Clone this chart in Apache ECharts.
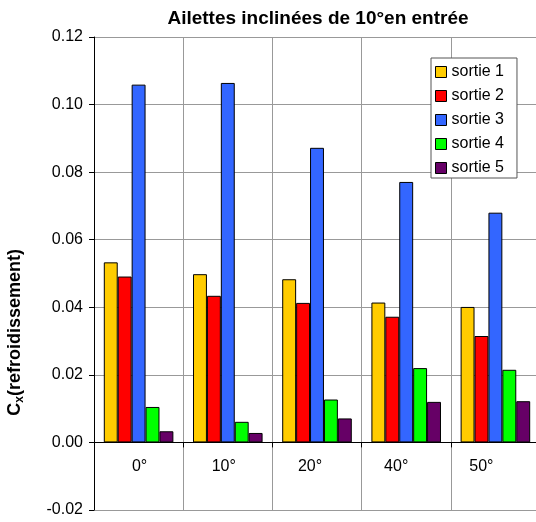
<!DOCTYPE html>
<html><head><meta charset="utf-8">
<script src="https://cdn.jsdelivr.net/npm/echarts@6/dist/echarts.min.js"></script>
<style>html,body{margin:0;padding:0;background:#fff}#c{width:536px;height:522px}</style>
</head><body><div id="c"></div>
<script>
const categories = ['0°','10°','20°','40°','50°'];
const seriesNames = ['sortie 1','sortie 2','sortie 3','sortie 4','sortie 5'];
const sortie1 = [0.0533, 0.0498, 0.0483, 0.0414, 0.0401];
const sortie2 = [0.0491, 0.0434, 0.0413, 0.0372, 0.0315];
const sortie3 = [0.1059, 0.1064, 0.0872, 0.0771, 0.0680];
const sortie4 = [0.0105, 0.0061, 0.0127, 0.0220, 0.0215];
const sortie5 = [0.0033, 0.0028, 0.0071, 0.0120, 0.0122];
const colors = ['#FFCC00','#FF0000','#3366FF','#00FF00','#660066'];
const values = [sortie1, sortie2, sortie3, sortie4, sortie5];
const font = 'Liberation Sans, Arial, sans-serif';

// small per-label horizontal nudges (px, negative = left) to mimic the original label placement
const labelShift = [1, -4, -7, -10, -14];
const labelRich = {};
labelShift.forEach((s,i)=>{
  labelRich['p'+i] = {fontFamily:font, fontSize:16, color:'#000',
    padding: s < 0 ? [0, -2*s, 0, 0] : [0, 0, 0, 2*s]};
});

const chart = echarts.init(document.getElementById('c'), null, {renderer:'canvas'});
chart.setOption({
  animation:false,
  backgroundColor:'#fff',
  title:{text:'Ailettes inclinées de 10°en entrée', left:313, top:4, textAlign:'center',
    textStyle:{fontFamily:font, fontSize:19, fontWeight:'bold', color:'#000'}},
  grid:{left:94, top:37, right:-4, bottom:12, containLabel:false, outerBoundsMode:'none'},
  legend:{orient:'vertical', left:431, top:58, padding:[6,13,2,4],
    backgroundColor:'#fff', borderColor:'#555', borderWidth:1,
    itemWidth:11, itemHeight:11, itemGap:8,
    icon:'rect',
    itemStyle:{borderColor:'#000', borderWidth:1},
    textStyle:{fontFamily:font, fontSize:16, color:'#000'},
    data:seriesNames},
  xAxis:{type:'category', data:categories,
    axisLine:{onZero:true, lineStyle:{color:'#000', width:1}},
    axisTick:{show:true, length:5, lineStyle:{color:'#000'}},
    axisLabel:{fontFamily:font, fontSize:16, color:'#000', margin:-51,
      formatter:(v,i)=>'{p'+i+'|'+v+'}', rich:labelRich},
    splitLine:{show:true, lineStyle:{color:'#999', width:1}}},
  yAxis:{type:'value', min:-0.02, max:0.12, interval:0.02,
    axisLine:{show:true, lineStyle:{color:'#000'}},
    axisTick:{show:true, length:5, lineStyle:{color:'#000'}},
    axisLabel:{fontFamily:font, fontSize:16, color:'#000', margin:11,
      formatter:v=>v.toFixed(2)},
    splitLine:{show:true, lineStyle:{color:'#999', width:1}}},
  graphic:[{type:'text', left:6, top:249, rotation:Math.PI/2,
    style:{text:'{b|C}{s|x}{b|(refroidissement)}', rich:{
      b:{fontFamily:font, fontSize:18, fontWeight:'bold', fill:'#000'},
      s:{fontFamily:font, fontSize:12, fontWeight:'bold', fill:'#000', padding:[9,0,0,0]}}}}],
  series: seriesNames.map((n,i)=>({
    name:n, type:'bar', data:values[i], barGap:'0%', barCategoryGap:'22%',
    itemStyle:{color:colors[i], borderColor:'#000', borderWidth:1}
  }))
});
</script></body></html>
